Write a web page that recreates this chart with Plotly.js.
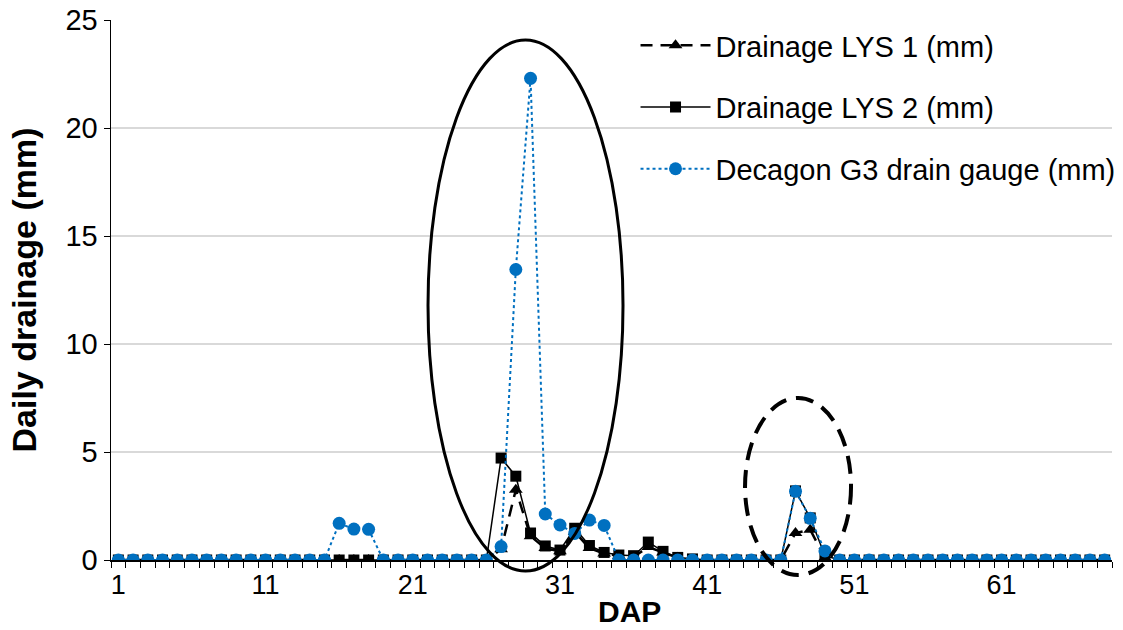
<!DOCTYPE html>
<html>
<head>
<meta charset="utf-8">
<script src="https://cdn.plot.ly/plotly-3.0.1.min.js"></script>
<style>html,body{margin:0;padding:0;background:#fff;}#chart{width:1123px;height:630px;}</style>
</head>
<body>
<div id="chart"></div>
<script>
const days = [1,2,3,4,5,6,7,8,9,10,11,12,13,14,15,16,17,18,19,20,21,22,23,24,25,26,27,28,29,30,31,32,33,34,35,36,37,38,39,40,41,42,43,44,45,46,47,48,49,50,51,52,53,54,55,56,57,58,59,60,61,62,63,64,65,66,67,68];

const lys1 = [0,0,0,0,0,0,0,0,0,0,0,0,0,0,0,0,0,0,0,0,0,0,0,0,0,0,
  0.5,3.25,1.1,0.55,0.4,1.3,0.55,0.3,0.2,0.15,0.6,0.35,0.1,0,
  0,0,0,0,0,0,
  1.25,1.4,0.1,
  0,0,0,0,0,0,0,0,0,0,0,0,0,0,0,0,0,0,0];

const lys2 = [0,0,0,0,0,0,0,0,0,0,0,0,0,0,0,0,0,0,0,0,0,0,0,0,0,0,
  4.72,3.88,1.25,0.65,0.46,1.47,0.67,0.35,0.23,0.2,0.83,0.4,0.12,0.05,
  0,0,0,0,0,0,
  3.2,1.95,0.2,
  0,0,0,0,0,0,0,0,0,0,0,0,0,0,0,0,0,0,0];

const decagon = [0,0,0,0,0,0,0,0,0,0,0,0,0,0,0,
  1.7,1.43,1.42,
  0,0,0,0,0,0,0,0,
  0.62,13.45,22.3,2.13,1.62,1.23,1.85,1.6,
  0,0,0,0,0,0,0,0,0,0,0,0,
  3.18,1.93,0.42,
  0,0,0,0,0,0,0,0,0,0,0,0,0,0,0,0,0,0,0];

const names = ['Drainage LYS 1 (mm)','Drainage LYS 2 (mm)','Decagon G3 drain gauge (mm)'];
const xTickVals = [1,11,21,31,41,51,61];
const xTitle = 'DAP';
const yTitle = 'Daily drainage (mm)';

const traces = [
  {x: days, y: lys1, name: names[0], type: 'scatter', mode: 'lines+markers', legendgroup: 'a',
   line: {color: '#000', width: 2.5, dash: '12px,8px'},
   marker: {symbol: 'triangle-up', size: 12, color: '#000'}},
  {x: days, y: lys2, name: names[1], type: 'scatter', mode: 'lines+markers', legendgroup: 'b',
   line: {color: '#000', width: 1.5},
   marker: {symbol: 'square', size: 11, color: '#000'}},
  {x: days, y: decagon, name: names[2], type: 'scatter', mode: 'lines+markers', legendgroup: 'c',
   line: {color: '#0070C0', width: 2, dash: 'dot'},
   marker: {symbol: 'circle', size: 13, color: '#0070C0'}}
];

const layout = {
  width: 1123, height: 630,
  margin: {l: 111, r: 11, t: 20, b: 70, autoexpand: false},
  paper_bgcolor: '#fff', plot_bgcolor: '#fff',
  font: {family: 'Liberation Sans, Arial, sans-serif', color: '#000', size: 29},
  showlegend: true,
  legend: {x: 0.524, y: 1.0, xanchor: 'left', yanchor: 'top', bgcolor: 'rgba(0,0,0,0)',
           font: {size: 29}, itemwidth: 70, traceorder: 'grouped', tracegroupgap: 21},
  xaxis: {range: [0.5, 68.5], tickmode: 'array', tickvals: xTickVals, ticktext: xTickVals.map(String),
          ticks: '', showgrid: false, zeroline: false, showline: true, linecolor: '#000', linewidth: 1.5,
          tickfont: {size: 27},
          minor: {tickmode: 'linear', tick0: 0.5, dtick: 1, ticks: 'outside', ticklen: 6, tickcolor: '#000', showgrid: false}},
  yaxis: {range: [0, 25], dtick: 5, tick0: 0, ticks: 'outside', ticklen: 6, tickcolor: '#000',
          showgrid: true, gridcolor: '#d9d9d9', gridwidth: 1.5, zeroline: false,
          showline: true, linecolor: '#000', linewidth: 1.5, tickfont: {size: 29},
          title: {text: '<b>' + yTitle + '</b>', font: {size: 34}, standoff: 18}},
  annotations: [
    {text: '<b>' + xTitle + '</b>', xref: 'paper', yref: 'paper', x: 0.518, y: -0.096,
     xanchor: 'center', yanchor: 'middle', showarrow: false, font: {size: 30}}
  ],
  shapes: [
    {type: 'circle', xref: 'paper', yref: 'paper', x0: 0.3167, x1: 0.5115, y0: -0.0204, y1: 0.963,
     line: {color: '#000', width: 3}, layer: 'above'},
    {type: 'circle', xref: 'paper', yref: 'paper', x0: 0.6334, x1: 0.7393, y0: -0.0278, y1: 0.30,
     line: {color: '#000', width: 4, dash: '18px,10px'}, layer: 'above'}
  ]
};

Plotly.newPlot('chart', traces, layout, {displayModeBar: false, staticPlot: true});
</script>
</body>
</html>
